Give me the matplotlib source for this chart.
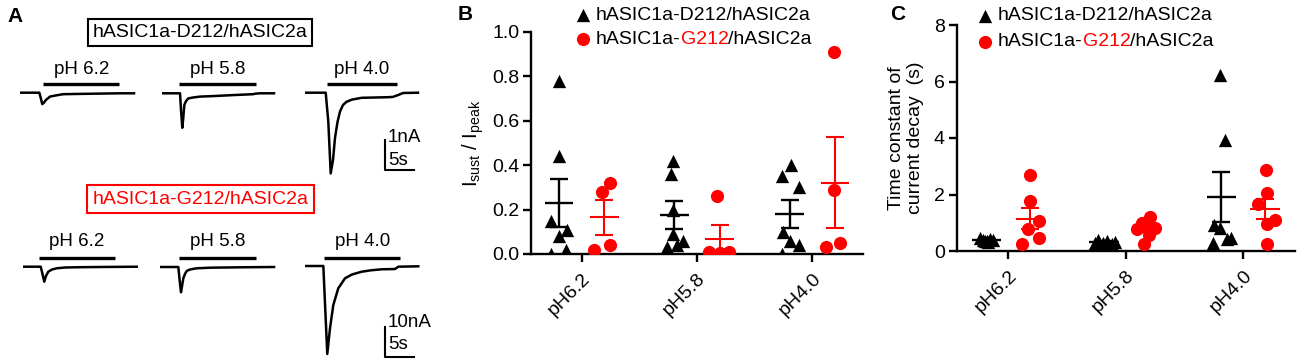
import matplotlib
matplotlib.use("Agg")
import matplotlib.pyplot as plt
import numpy as np

plt.rcParams['font.family'] = ['Liberation Sans', 'DejaVu Sans']
plt.rcParams['mathtext.fontset'] = 'custom'
plt.rcParams['mathtext.rm'] = 'Liberation Sans'
plt.rcParams['mathtext.it'] = 'Liberation Sans:italic'

RED = '#ff0000'

# ---------------- Panel A data: traces (time s, current nA) ----------------
top_t_62 = [0, 3.33, 3.53, 3.84, 4.14, 4.48, 5.17, 6.21, 7.41, 10.34, 13.79, 17.24, 19.66]
top_i_62 = [0, 0, -0.14, -0.38, -0.33, -0.24, -0.13, -0.09, -0.05, -0.04, -0.03, -0.02, -0.02]
top_t_58 = [0, 3.16, 3.33, 3.55, 3.72, 3.90, 4.19, 4.59, 5.40, 6.60, 9.19, 12.29, 15.74, 16.26, 16.95, 19.36]
top_i_58 = [0, 0, -0.56, -1.15, -0.82, -0.39, -0.26, -0.17, -0.14, -0.11, -0.09, -0.06, -0.03, -0.01, 0, 0]
top_t_40 = [0, 3.57, 4.02, 4.43, 4.83, 5.17, 5.60, 6.03, 6.55, 7.19, 8.10, 9.78, 12.07, 14.31, 15.17, 16.03, 16.90, 19.48]
top_i_40 = [0, 0, -0.97, -2.69, -2.24, -1.51, -0.98, -0.63, -0.41, -0.30, -0.23, -0.17, -0.16, -0.15, -0.14, -0.08, -0.01, 0]

bot_t_62 = [0, 3.0, 3.31, 3.62, 3.91, 4.31, 4.95, 5.76, 7.19, 9.78, 13.22, 19.55]
bot_i_62 = [0, 0, -2.43, -5.0, -3.1, -1.67, -0.93, -0.53, -0.27, -0.17, -0.1, 0]
bot_t_58 = [0, 3.16, 3.38, 3.62, 3.83, 4.02, 4.31, 4.60, 5.17, 6.33, 8.62, 13.79, 19.66]
bot_i_58 = [0, 0, -4.33, -8.43, -6.0, -3.77, -2.33, -1.33, -0.83, -0.43, -0.23, -0.1, 0]
bot_t_40 = [0, 3.16, 3.50, 3.84, 4.31, 4.88, 5.74, 6.90, 8.10, 9.78, 11.38, 13.22, 15.52, 16.09, 19.53]
bot_i_40 = [0, 0, -14.67, -29.33, -20.77, -13.0, -7.43, -4.1, -2.83, -1.9, -1.43, -1.1, -1.0, -0.23, -0.1]

pulse_labels = ['pH 6.2', 'pH 5.8', 'pH 4.0']
top_pulses = [(4.02, 17.12), (3.03, 16.26), (3.74, 15.81)]
bot_pulses = [(2.76, 15.81), (3.33, 16.55), (3.33, 16.38)]

# ---------------- Panels B/C data ----------------
categories = ['pH6.2', 'pH5.8', 'pH4.0']
legend_black = 'hASIC1a-D212/hASIC2a'

B_black = [[0.78, 0.44, 0.15, 0.08, 0.11, 0.02, 0.0],
           [0.42, 0.36, 0.20, 0.09, 0.06, 0.03, 0.04],
           [0.35, 0.40, 0.30, 0.10, 0.06, 0.04, 0.0]]
B_red = [[0.28, 0.32, 0.02, 0.04],
         [0.26, 0.01, 0.005, 0.01],
         [0.91, 0.29, 0.03, 0.05]]
B_black_mean = [0.23, 0.176, 0.18]
B_black_sem = [0.107, 0.063, 0.064]
B_red_mean = [0.165, 0.068, 0.322]
B_red_sem = [0.079, 0.063, 0.205]

C_black = [[0.45, 0.38, 0.35, 0.42, 0.40, 0.33, 0.37],
           [0.40, 0.35, 0.30, 0.25, 0.20, 0.32, 0.28],
           [6.22, 3.92, 0.91, 0.80, 0.47, 0.42, 0.28]]
C_red = [[2.68, 1.77, 1.05, 0.78, 0.46, 0.26],
         [1.2, 1.0, 0.85, 0.78, 0.82, 0.56, 0.26],
         [2.86, 2.07, 1.65, 1.09, 0.95, 0.24]]
C_black_mean = [0.40, 0.31, 1.91]
C_black_sem = [0.03, 0.03, 0.87]
C_red_mean = [1.15, 0.80, 1.48]
C_red_sem = [0.37, 0.12, 0.36]

# horizontal scatter offsets (positions)
B_black_jit = [[0, 0, -0.072, 0, 0.072, 0.064, -0.067],
               [-0.014, -0.03, -0.014, -0.014, 0.073, -0.066, 0.021],
               [-0.067, 0.012, 0.078, -0.058, 0, 0.078, -0.067]]
B_red_jit = [[-0.02, 0.052, -0.09, 0.046],
             [-0.02, -0.09, 0.0, 0.08],
             [-0.012, -0.012, -0.078, 0.046]]
C_black_jit = [[-0.057, -0.028, 0, 0.028, 0.057, 0.014, -0.014],
               [-0.048, 0.023, -0.077, 0.066, -0.02, 0.094, -0.006],
               [-0.014, 0.028, -0.066, -0.014, 0.085, 0.043, -0.071]]
C_red_jit = [[0, 0, 0.077, -0.023, 0.077, -0.066],
             [0.023, -0.048, -0.006, -0.091, 0.066, 0.009, -0.034],
             [0.009, 0.014, -0.057, 0.085, 0.014, 0.014]]

# ---------------- Figure ----------------
W, H = 1300, 362
fig = plt.figure(figsize=(W / 100, H / 100), dpi=100)


def px_axes(x0, y0, x1, y1, **kw):
    return fig.add_axes([x0 / W, 1 - y1 / H, (x1 - x0) / W, (y1 - y0) / H], **kw)


canvas = px_axes(0, 0, W, H)
canvas.set_xlim(0, W)
canvas.set_ylim(H, 0)
canvas.axis('off')

FS = 14
MS_T = 92
MS_C = 90
# panel letters
for lx, ly, lt in [(15, 16, 'A'), (465, 15, 'B'), (898, 14, 'C')]:
    canvas.text(lx, ly, lt, fontsize=15, fontweight='bold', ha='center', va='center')

# row titles
canvas.text(200, 32.5, 'hASIC1a-D212/hASIC2a', fontsize=FS, ha='center', va='center',
            bbox=dict(boxstyle='square,pad=0.26', fc='white', ec='black', lw=1.5))
canvas.text(200.5, 199, 'hASIC1a-G212/hASIC2a', fontsize=FS, ha='center', va='center', color=RED,
            bbox=dict(boxstyle='square,pad=0.26', fc='white', ec=RED, lw=1.5))

# trace axes
PX_S = 5.8


def trace_axes(x0, base, px_na, ilo, ihi):
    ax = px_axes(x0, base - ihi * px_na, x0 + 20 * PX_S, base - ilo * px_na)
    ax.set_xlim(0, 20)
    ax.set_ylim(ilo, ihi)
    ax.axis('off')
    return ax


top_series = [(top_t_62, top_i_62), (top_t_58, top_i_58), (top_t_40, top_i_40)]
bot_series = [(bot_t_62, bot_i_62), (bot_t_58, bot_i_58), (bot_t_40, bot_i_40)]
top_x0 = [20, 161.7, 305]
top_base = [92.7, 93.3, 92.7]
bot_x0 = [23.3, 160, 305]
bot_base = [266.7, 267, 266]

top_axes = []
for k in range(3):
    ax = trace_axes(top_x0[k], top_base[k], 30, -3.0, 0.6)
    t, i = top_series[k]
    ax.plot(t, i, color='black', lw=1.8, solid_joinstyle='round')
    bar_i = (top_base[k] - 84) / 30
    ax.plot(top_pulses[k], [bar_i, bar_i], color='black', lw=2.4, solid_capstyle='butt')
    ax.text(np.mean(top_pulses[k]), (top_base[k] - 70) / 30, pulse_labels[k], fontsize=FS - 0.5,
            ha='center', va='center', clip_on=False)
    top_axes.append(ax)

bot_axes = []
for k in range(3):
    ax = trace_axes(bot_x0[k], bot_base[k], 3, -31.5, 6)
    t, i = bot_series[k]
    ax.plot(t, i, color='black', lw=1.8, solid_joinstyle='round')
    bar_i = (bot_base[k] - 257.7) / 3
    ax.plot(bot_pulses[k], [bar_i, bar_i], color='black', lw=2.4, solid_capstyle='butt')
    ax.text(np.mean(bot_pulses[k]), (bot_base[k] - 241.5) / 3, pulse_labels[k], fontsize=FS - 0.5,
            ha='center', va='center', clip_on=False)
    bot_axes.append(ax)

# scale bars (in pH4.0 axes)
ax = top_axes[2]
ax.plot([13.8, 13.8, 18.8], [-1.58, -2.58, -2.58], color='black', lw=1.5, clip_on=False)
ax.text(14.3, -1.5, '1nA', fontsize=FS - 0.5, ha='left', va='center', clip_on=False)
ax.text(14.3, -2.25, '5s', fontsize=FS - 0.5, ha='left', va='center', clip_on=False)
ax = bot_axes[2]
ax.plot([13.8, 13.8, 18.8], [-20.2, -30.2, -30.2], color='black', lw=1.5, clip_on=False)
ax.text(14.3, -18.8, '10nA', fontsize=FS - 0.5, ha='left', va='center', clip_on=False)
ax.text(14.3, -26.3, '5s', fontsize=FS - 0.5, ha='left', va='center', clip_on=False)


# ---------------- scatter panels ----------------
def scatter_panel(ax, black, bjit, red, rjit, bm, bs, rm, rs, off, ylim, yticks, fmt):
    xc = np.arange(len(categories))
    for k in range(len(categories)):
        xb = xc[k] - off + np.array(bjit[k])
        ax.scatter(xb, black[k], marker='^', s=MS_T, color='black', lw=0, zorder=3)
        xr = xc[k] + off + np.array(rjit[k])
        ax.scatter(xr, red[k], marker='o', s=MS_C, color=RED, lw=0, zorder=3)
    ax.hlines(bm, xc - off - 0.125, xc - off + 0.125, color='black', lw=1.7, zorder=4)
    ax.errorbar(xc - off, bm, yerr=bs, fmt='none', ecolor='black', elinewidth=1.7,
                capsize=6.8, capthick=1.7, zorder=4)
    ax.hlines(rm, xc + off - 0.125, xc + off + 0.125, color=RED, lw=1.5, zorder=4)
    ax.errorbar(xc + off, rm, yerr=rs, fmt='none', ecolor=RED, elinewidth=1.5,
                capsize=6.8, capthick=1.5, zorder=4)
    ax.set_xlim(-0.44, 2.44)
    ax.set_ylim(*ylim)
    ax.set_yticks(yticks)
    ax.set_yticklabels([fmt.format(v) for v in yticks])
    ax.set_xticks(xc)
    ax.set_xticklabels(categories, rotation=45, ha='right', rotation_mode='anchor')
    for s in ['top', 'right']:
        ax.spines[s].set_visible(False)
    for s in ['left', 'bottom']:
        ax.spines[s].set_linewidth(1.7)
    ax.tick_params(direction='out', length=5.5, width=1.7, labelsize=FS, pad=3)
    ax.tick_params(axis='x', pad=6)
    ax.patch.set_alpha(0)


axB = px_axes(531, 32, 863, 254)
scatter_panel(axB, B_black, B_black_jit, B_red, B_red_jit, B_black_mean, B_black_sem,
              B_red_mean, B_red_sem, 0.197, (0, 1.0), [0.0, 0.2, 0.4, 0.6, 0.8, 1.0], '{:.1f}')
axB.set_ylabel(r'I$_{\mathregular{sust}}$ / I$_{\mathregular{peak}}$', fontsize=FS + 0.5, labelpad=4)

axC = px_axes(956.7, 25, 1295, 251)
scatter_panel(axC, C_black, C_black_jit, C_red, C_red_jit, C_black_mean, C_black_sem,
              C_red_mean, C_red_sem, 0.186, (0, 8), [0, 2, 4, 6, 8], '{:d}')
axC.set_ylabel('Time constant of\ncurrent decay  (s)', fontsize=FS, labelpad=7, linespacing=1.2)


# legends (drawn on canvas)
def legend(xm, y1, y2):
    canvas.scatter([xm], [y1], marker='^', s=MS_T, color='black', lw=0)
    canvas.scatter([xm], [y2], marker='o', s=MS_C, color=RED, lw=0)
    canvas.text(xm + 13, y1, legend_black, fontsize=FS, ha='left', va='center')
    t1 = canvas.text(xm + 13, y2, 'hASIC1a-', fontsize=FS, ha='left', va='center')
    t2 = canvas.annotate('G212', xy=(1, 0), xycoords=t1, fontsize=FS, color=RED, ha='left', va='bottom')
    canvas.annotate('/hASIC2a', xy=(1, 0), xycoords=t2, fontsize=FS, ha='left', va='bottom')


legend(583, 15, 39)
legend(985, 16, 42)

fig.savefig('out.png', dpi=100)
